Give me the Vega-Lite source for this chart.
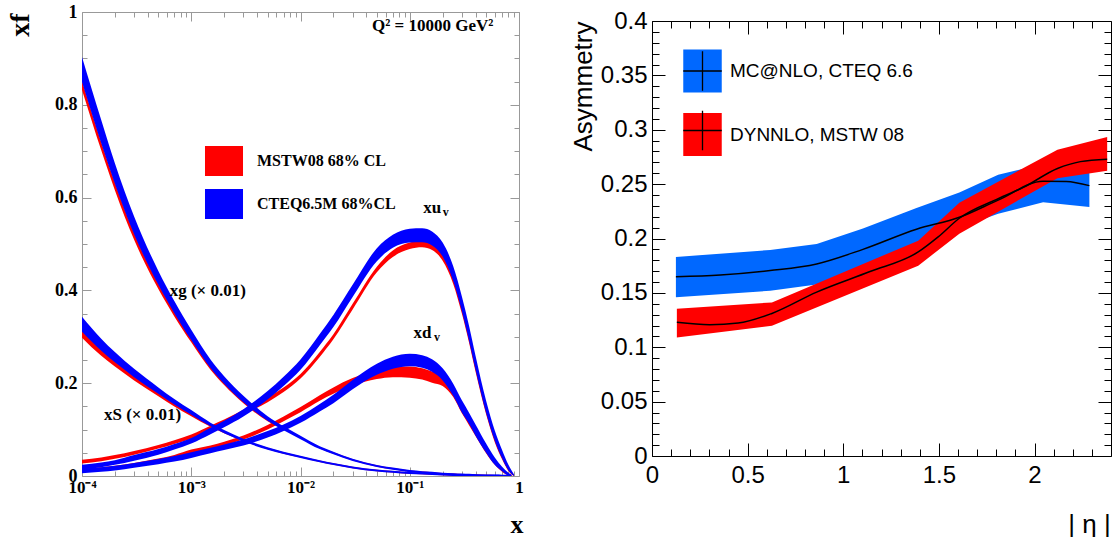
{
"$schema": "https://vega.github.io/schema/vega-lite/v6.json",
"background": "white",
"padding": {"left": 6, "top": 3, "right": 0, "bottom": 0},
"spacing": 46,
"config": {"view": {"stroke": null}, "axis": {"grid": false, "labelFlush": false, "labelOverlap": false, "tickWidth": 1, "domainWidth": 1}, "legend": {"labelLimit": 0}},
"resolve": {"scale": {"fill": "independent", "stroke": "independent"}, "legend": {"fill": "independent", "stroke": "independent"}},
"datasets": {
"mstw": [
{"pdf":"xg","set":"MSTW08 68% CL","x":0.0001,"lo":0.832,"hi":0.852},
{"pdf":"xg","set":"MSTW08 68% CL","x":0.00015,"lo":0.702,"hi":0.72},
{"pdf":"xg","set":"MSTW08 68% CL","x":0.0002,"lo":0.616,"hi":0.633},
{"pdf":"xg","set":"MSTW08 68% CL","x":0.0003,"lo":0.509,"hi":0.524},
{"pdf":"xg","set":"MSTW08 68% CL","x":0.0005,"lo":0.403,"hi":0.415},
{"pdf":"xg","set":"MSTW08 68% CL","x":0.0007,"lo":0.344,"hi":0.354},
{"pdf":"xg","set":"MSTW08 68% CL","x":0.001,"lo":0.288,"hi":0.296},
{"pdf":"xg","set":"MSTW08 68% CL","x":0.0015,"lo":0.229,"hi":0.236},
{"pdf":"xg","set":"MSTW08 68% CL","x":0.002,"lo":0.196,"hi":0.202},
{"pdf":"xg","set":"MSTW08 68% CL","x":0.003,"lo":0.157,"hi":0.162},
{"pdf":"xg","set":"MSTW08 68% CL","x":0.005,"lo":0.118,"hi":0.122},
{"pdf":"xg","set":"MSTW08 68% CL","x":0.007,"lo":0.1015,"hi":0.1045},
{"pdf":"xg","set":"MSTW08 68% CL","x":0.01,"lo":0.0815,"hi":0.0845},
{"pdf":"xg","set":"MSTW08 68% CL","x":0.015,"lo":0.0595,"hi":0.0625},
{"pdf":"xg","set":"MSTW08 68% CL","x":0.02,"lo":0.048,"hi":0.051},
{"pdf":"xg","set":"MSTW08 68% CL","x":0.03,"lo":0.0333,"hi":0.0363},
{"pdf":"xg","set":"MSTW08 68% CL","x":0.05,"lo":0.0202,"hi":0.0232},
{"pdf":"xg","set":"MSTW08 68% CL","x":0.07,"lo":0.0144,"hi":0.0174},
{"pdf":"xg","set":"MSTW08 68% CL","x":0.1,"lo":0.009,"hi":0.012},
{"pdf":"xg","set":"MSTW08 68% CL","x":0.13,"lo":0.0067,"hi":0.0097},
{"pdf":"xg","set":"MSTW08 68% CL","x":0.16,"lo":0.0053,"hi":0.0083},
{"pdf":"xg","set":"MSTW08 68% CL","x":0.2,"lo":0.0035,"hi":0.0065},
{"pdf":"xg","set":"MSTW08 68% CL","x":0.25,"lo":0.0023,"hi":0.0053},
{"pdf":"xg","set":"MSTW08 68% CL","x":0.3,"lo":0.0015,"hi":0.0045},
{"pdf":"xg","set":"MSTW08 68% CL","x":0.35,"lo":0.0009,"hi":0.0039},
{"pdf":"xg","set":"MSTW08 68% CL","x":0.4,"lo":0.0003,"hi":0.0033},
{"pdf":"xg","set":"MSTW08 68% CL","x":0.5,"lo":0,"hi":0.0027},
{"pdf":"xg","set":"MSTW08 68% CL","x":0.6,"lo":0,"hi":0.0023},
{"pdf":"xg","set":"MSTW08 68% CL","x":0.7,"lo":0,"hi":0.002},
{"pdf":"xg","set":"MSTW08 68% CL","x":0.8,"lo":0,"hi":0.0018},
{"pdf":"xg","set":"MSTW08 68% CL","x":0.85,"lo":0,"hi":0.0017},
{"pdf":"xS","set":"MSTW08 68% CL","x":0.0001,"lo":0.298,"hi":0.316},
{"pdf":"xS","set":"MSTW08 68% CL","x":0.00015,"lo":0.259,"hi":0.276},
{"pdf":"xS","set":"MSTW08 68% CL","x":0.0002,"lo":0.236,"hi":0.25},
{"pdf":"xS","set":"MSTW08 68% CL","x":0.0003,"lo":0.206,"hi":0.218},
{"pdf":"xS","set":"MSTW08 68% CL","x":0.0005,"lo":0.172,"hi":0.181},
{"pdf":"xS","set":"MSTW08 68% CL","x":0.0007,"lo":0.15,"hi":0.158},
{"pdf":"xS","set":"MSTW08 68% CL","x":0.001,"lo":0.129,"hi":0.136},
{"pdf":"xS","set":"MSTW08 68% CL","x":0.0015,"lo":0.106,"hi":0.112},
{"pdf":"xS","set":"MSTW08 68% CL","x":0.002,"lo":0.092,"hi":0.097},
{"pdf":"xS","set":"MSTW08 68% CL","x":0.003,"lo":0.0757,"hi":0.0787},
{"pdf":"xS","set":"MSTW08 68% CL","x":0.005,"lo":0.0577,"hi":0.0607},
{"pdf":"xS","set":"MSTW08 68% CL","x":0.007,"lo":0.0482,"hi":0.0512},
{"pdf":"xS","set":"MSTW08 68% CL","x":0.01,"lo":0.0397,"hi":0.0427},
{"pdf":"xS","set":"MSTW08 68% CL","x":0.015,"lo":0.0302,"hi":0.0332},
{"pdf":"xS","set":"MSTW08 68% CL","x":0.02,"lo":0.0243,"hi":0.0273},
{"pdf":"xS","set":"MSTW08 68% CL","x":0.03,"lo":0.0169,"hi":0.0199},
{"pdf":"xS","set":"MSTW08 68% CL","x":0.05,"lo":0.0104,"hi":0.0134},
{"pdf":"xS","set":"MSTW08 68% CL","x":0.07,"lo":0.0076,"hi":0.0106},
{"pdf":"xS","set":"MSTW08 68% CL","x":0.1,"lo":0.005,"hi":0.008},
{"pdf":"xS","set":"MSTW08 68% CL","x":0.13,"lo":0.0037,"hi":0.0067},
{"pdf":"xS","set":"MSTW08 68% CL","x":0.16,"lo":0.0027,"hi":0.0057},
{"pdf":"xS","set":"MSTW08 68% CL","x":0.2,"lo":0.0017,"hi":0.0047},
{"pdf":"xS","set":"MSTW08 68% CL","x":0.25,"lo":0.0009,"hi":0.0039},
{"pdf":"xS","set":"MSTW08 68% CL","x":0.3,"lo":0.0003,"hi":0.0033},
{"pdf":"xS","set":"MSTW08 68% CL","x":0.35,"lo":0,"hi":0.0029},
{"pdf":"xS","set":"MSTW08 68% CL","x":0.4,"lo":0,"hi":0.0025},
{"pdf":"xS","set":"MSTW08 68% CL","x":0.5,"lo":0,"hi":0.0021},
{"pdf":"xS","set":"MSTW08 68% CL","x":0.6,"lo":0,"hi":0.0018},
{"pdf":"xS","set":"MSTW08 68% CL","x":0.7,"lo":0,"hi":0.0016},
{"pdf":"xS","set":"MSTW08 68% CL","x":0.8,"lo":0,"hi":0.0015},
{"pdf":"xS","set":"MSTW08 68% CL","x":0.85,"lo":0,"hi":0.0015},
{"pdf":"xu","set":"MSTW08 68% CL","x":0.0001,"lo":0.027,"hi":0.035},
{"pdf":"xu","set":"MSTW08 68% CL","x":0.00015,"lo":0.032,"hi":0.04},
{"pdf":"xu","set":"MSTW08 68% CL","x":0.0002,"lo":0.037,"hi":0.045},
{"pdf":"xu","set":"MSTW08 68% CL","x":0.0003,"lo":0.046,"hi":0.054},
{"pdf":"xu","set":"MSTW08 68% CL","x":0.0005,"lo":0.059,"hi":0.067},
{"pdf":"xu","set":"MSTW08 68% CL","x":0.0007,"lo":0.069,"hi":0.077},
{"pdf":"xu","set":"MSTW08 68% CL","x":0.001,"lo":0.0805,"hi":0.0895},
{"pdf":"xu","set":"MSTW08 68% CL","x":0.0015,"lo":0.0995,"hi":0.1085},
{"pdf":"xu","set":"MSTW08 68% CL","x":0.002,"lo":0.1125,"hi":0.1215},
{"pdf":"xu","set":"MSTW08 68% CL","x":0.003,"lo":0.133,"hi":0.143},
{"pdf":"xu","set":"MSTW08 68% CL","x":0.005,"lo":0.159,"hi":0.169},
{"pdf":"xu","set":"MSTW08 68% CL","x":0.007,"lo":0.181,"hi":0.191},
{"pdf":"xu","set":"MSTW08 68% CL","x":0.01,"lo":0.21,"hi":0.22},
{"pdf":"xu","set":"MSTW08 68% CL","x":0.015,"lo":0.2565,"hi":0.2675},
{"pdf":"xu","set":"MSTW08 68% CL","x":0.02,"lo":0.2945,"hi":0.3055},
{"pdf":"xu","set":"MSTW08 68% CL","x":0.03,"lo":0.359,"hi":0.371},
{"pdf":"xu","set":"MSTW08 68% CL","x":0.05,"lo":0.439,"hi":0.451},
{"pdf":"xu","set":"MSTW08 68% CL","x":0.07,"lo":0.472,"hi":0.486},
{"pdf":"xu","set":"MSTW08 68% CL","x":0.1,"lo":0.489,"hi":0.503},
{"pdf":"xu","set":"MSTW08 68% CL","x":0.13,"lo":0.493,"hi":0.507},
{"pdf":"xu","set":"MSTW08 68% CL","x":0.16,"lo":0.487,"hi":0.501},
{"pdf":"xu","set":"MSTW08 68% CL","x":0.2,"lo":0.464,"hi":0.48},
{"pdf":"xu","set":"MSTW08 68% CL","x":0.25,"lo":0.414,"hi":0.43},
{"pdf":"xu","set":"MSTW08 68% CL","x":0.3,"lo":0.35,"hi":0.366},
{"pdf":"xu","set":"MSTW08 68% CL","x":0.35,"lo":0.286,"hi":0.302},
{"pdf":"xu","set":"MSTW08 68% CL","x":0.4,"lo":0.225,"hi":0.241},
{"pdf":"xu","set":"MSTW08 68% CL","x":0.5,"lo":0.133,"hi":0.147},
{"pdf":"xu","set":"MSTW08 68% CL","x":0.6,"lo":0.073,"hi":0.087},
{"pdf":"xu","set":"MSTW08 68% CL","x":0.7,"lo":0.036,"hi":0.048},
{"pdf":"xu","set":"MSTW08 68% CL","x":0.8,"lo":0.011,"hi":0.019},
{"pdf":"xu","set":"MSTW08 68% CL","x":0.85,"lo":0.004,"hi":0.01},
{"pdf":"xu","set":"MSTW08 68% CL","x":0.9,"lo":0,"hi":0.002},
{"pdf":"xd","set":"MSTW08 68% CL","x":0.0001,"lo":0.01,"hi":0.016},
{"pdf":"xd","set":"MSTW08 68% CL","x":0.00015,"lo":0.013,"hi":0.019},
{"pdf":"xd","set":"MSTW08 68% CL","x":0.0002,"lo":0.016,"hi":0.022},
{"pdf":"xd","set":"MSTW08 68% CL","x":0.0003,"lo":0.022,"hi":0.028},
{"pdf":"xd","set":"MSTW08 68% CL","x":0.0005,"lo":0.0305,"hi":0.0375},
{"pdf":"xd","set":"MSTW08 68% CL","x":0.0007,"lo":0.0385,"hi":0.0455},
{"pdf":"xd","set":"MSTW08 68% CL","x":0.001,"lo":0.049,"hi":0.057},
{"pdf":"xd","set":"MSTW08 68% CL","x":0.0015,"lo":0.058,"hi":0.066},
{"pdf":"xd","set":"MSTW08 68% CL","x":0.002,"lo":0.066,"hi":0.074},
{"pdf":"xd","set":"MSTW08 68% CL","x":0.003,"lo":0.0785,"hi":0.0875},
{"pdf":"xd","set":"MSTW08 68% CL","x":0.005,"lo":0.1,"hi":0.11},
{"pdf":"xd","set":"MSTW08 68% CL","x":0.007,"lo":0.118,"hi":0.128},
{"pdf":"xd","set":"MSTW08 68% CL","x":0.01,"lo":0.1375,"hi":0.1485},
{"pdf":"xd","set":"MSTW08 68% CL","x":0.015,"lo":0.162,"hi":0.174},
{"pdf":"xd","set":"MSTW08 68% CL","x":0.02,"lo":0.177,"hi":0.191},
{"pdf":"xd","set":"MSTW08 68% CL","x":0.03,"lo":0.195,"hi":0.211},
{"pdf":"xd","set":"MSTW08 68% CL","x":0.05,"lo":0.209,"hi":0.229},
{"pdf":"xd","set":"MSTW08 68% CL","x":0.07,"lo":0.213,"hi":0.235},
{"pdf":"xd","set":"MSTW08 68% CL","x":0.1,"lo":0.212,"hi":0.236},
{"pdf":"xd","set":"MSTW08 68% CL","x":0.13,"lo":0.208,"hi":0.232},
{"pdf":"xd","set":"MSTW08 68% CL","x":0.16,"lo":0.201,"hi":0.225},
{"pdf":"xd","set":"MSTW08 68% CL","x":0.2,"lo":0.194,"hi":0.216},
{"pdf":"xd","set":"MSTW08 68% CL","x":0.25,"lo":0.17,"hi":0.19},
{"pdf":"xd","set":"MSTW08 68% CL","x":0.3,"lo":0.135,"hi":0.155},
{"pdf":"xd","set":"MSTW08 68% CL","x":0.35,"lo":0.109,"hi":0.129},
{"pdf":"xd","set":"MSTW08 68% CL","x":0.4,"lo":0.086,"hi":0.104},
{"pdf":"xd","set":"MSTW08 68% CL","x":0.5,"lo":0.049,"hi":0.065},
{"pdf":"xd","set":"MSTW08 68% CL","x":0.6,"lo":0.024,"hi":0.036},
{"pdf":"xd","set":"MSTW08 68% CL","x":0.7,"lo":0.009,"hi":0.017},
{"pdf":"xd","set":"MSTW08 68% CL","x":0.8,"lo":0.001,"hi":0.005},
{"pdf":"xd","set":"MSTW08 68% CL","x":0.85,"lo":0,"hi":0.002}
],
"cteq": [
{"pdf":"xg","set":"CTEQ6.5M 68%CL","x":0.0001,"lo":0.849,"hi":0.903},
{"pdf":"xg","set":"CTEQ6.5M 68%CL","x":0.00015,"lo":0.717,"hi":0.767},
{"pdf":"xg","set":"CTEQ6.5M 68%CL","x":0.0002,"lo":0.63,"hi":0.674},
{"pdf":"xg","set":"CTEQ6.5M 68%CL","x":0.0003,"lo":0.521,"hi":0.559},
{"pdf":"xg","set":"CTEQ6.5M 68%CL","x":0.0005,"lo":0.412,"hi":0.442},
{"pdf":"xg","set":"CTEQ6.5M 68%CL","x":0.0007,"lo":0.351,"hi":0.377},
{"pdf":"xg","set":"CTEQ6.5M 68%CL","x":0.001,"lo":0.293,"hi":0.315},
{"pdf":"xg","set":"CTEQ6.5M 68%CL","x":0.0015,"lo":0.233,"hi":0.251},
{"pdf":"xg","set":"CTEQ6.5M 68%CL","x":0.002,"lo":0.199,"hi":0.215},
{"pdf":"xg","set":"CTEQ6.5M 68%CL","x":0.003,"lo":0.159,"hi":0.173},
{"pdf":"xg","set":"CTEQ6.5M 68%CL","x":0.005,"lo":0.119,"hi":0.129},
{"pdf":"xg","set":"CTEQ6.5M 68%CL","x":0.007,"lo":0.0988,"hi":0.1072},
{"pdf":"xg","set":"CTEQ6.5M 68%CL","x":0.01,"lo":0.0794,"hi":0.0866},
{"pdf":"xg","set":"CTEQ6.5M 68%CL","x":0.015,"lo":0.058,"hi":0.064},
{"pdf":"xg","set":"CTEQ6.5M 68%CL","x":0.02,"lo":0.0468,"hi":0.0522},
{"pdf":"xg","set":"CTEQ6.5M 68%CL","x":0.03,"lo":0.0324,"hi":0.0372},
{"pdf":"xg","set":"CTEQ6.5M 68%CL","x":0.05,"lo":0.0195,"hi":0.0239},
{"pdf":"xg","set":"CTEQ6.5M 68%CL","x":0.07,"lo":0.0137,"hi":0.0181},
{"pdf":"xg","set":"CTEQ6.5M 68%CL","x":0.1,"lo":0.0083,"hi":0.0127},
{"pdf":"xg","set":"CTEQ6.5M 68%CL","x":0.13,"lo":0.006,"hi":0.0104},
{"pdf":"xg","set":"CTEQ6.5M 68%CL","x":0.16,"lo":0.0046,"hi":0.009},
{"pdf":"xg","set":"CTEQ6.5M 68%CL","x":0.2,"lo":0.0028,"hi":0.0072},
{"pdf":"xg","set":"CTEQ6.5M 68%CL","x":0.25,"lo":0.0016,"hi":0.006},
{"pdf":"xg","set":"CTEQ6.5M 68%CL","x":0.3,"lo":0.0008,"hi":0.0052},
{"pdf":"xg","set":"CTEQ6.5M 68%CL","x":0.35,"lo":0.0002,"hi":0.0046},
{"pdf":"xg","set":"CTEQ6.5M 68%CL","x":0.4,"lo":0,"hi":0.004},
{"pdf":"xg","set":"CTEQ6.5M 68%CL","x":0.5,"lo":0,"hi":0.0034},
{"pdf":"xg","set":"CTEQ6.5M 68%CL","x":0.6,"lo":0,"hi":0.003},
{"pdf":"xg","set":"CTEQ6.5M 68%CL","x":0.7,"lo":0,"hi":0.0027},
{"pdf":"xg","set":"CTEQ6.5M 68%CL","x":0.8,"lo":0,"hi":0.0025},
{"pdf":"xg","set":"CTEQ6.5M 68%CL","x":0.85,"lo":0,"hi":0.0024},
{"pdf":"xS","set":"CTEQ6.5M 68%CL","x":0.0001,"lo":0.311,"hi":0.343},
{"pdf":"xS","set":"CTEQ6.5M 68%CL","x":0.00015,"lo":0.27,"hi":0.296},
{"pdf":"xS","set":"CTEQ6.5M 68%CL","x":0.0002,"lo":0.245,"hi":0.267},
{"pdf":"xS","set":"CTEQ6.5M 68%CL","x":0.0003,"lo":0.213,"hi":0.231},
{"pdf":"xS","set":"CTEQ6.5M 68%CL","x":0.0005,"lo":0.177,"hi":0.191},
{"pdf":"xS","set":"CTEQ6.5M 68%CL","x":0.0007,"lo":0.154,"hi":0.166},
{"pdf":"xS","set":"CTEQ6.5M 68%CL","x":0.001,"lo":0.132,"hi":0.142},
{"pdf":"xS","set":"CTEQ6.5M 68%CL","x":0.0015,"lo":0.107,"hi":0.115},
{"pdf":"xS","set":"CTEQ6.5M 68%CL","x":0.002,"lo":0.092,"hi":0.099},
{"pdf":"xS","set":"CTEQ6.5M 68%CL","x":0.003,"lo":0.0742,"hi":0.0802},
{"pdf":"xS","set":"CTEQ6.5M 68%CL","x":0.005,"lo":0.0567,"hi":0.0617},
{"pdf":"xS","set":"CTEQ6.5M 68%CL","x":0.007,"lo":0.0473,"hi":0.0521},
{"pdf":"xS","set":"CTEQ6.5M 68%CL","x":0.01,"lo":0.039,"hi":0.0434},
{"pdf":"xS","set":"CTEQ6.5M 68%CL","x":0.015,"lo":0.0295,"hi":0.0339},
{"pdf":"xS","set":"CTEQ6.5M 68%CL","x":0.02,"lo":0.0236,"hi":0.028},
{"pdf":"xS","set":"CTEQ6.5M 68%CL","x":0.03,"lo":0.0162,"hi":0.0206},
{"pdf":"xS","set":"CTEQ6.5M 68%CL","x":0.05,"lo":0.0097,"hi":0.0141},
{"pdf":"xS","set":"CTEQ6.5M 68%CL","x":0.07,"lo":0.0069,"hi":0.0113},
{"pdf":"xS","set":"CTEQ6.5M 68%CL","x":0.1,"lo":0.0043,"hi":0.0087},
{"pdf":"xS","set":"CTEQ6.5M 68%CL","x":0.13,"lo":0.003,"hi":0.0074},
{"pdf":"xS","set":"CTEQ6.5M 68%CL","x":0.16,"lo":0.002,"hi":0.0064},
{"pdf":"xS","set":"CTEQ6.5M 68%CL","x":0.2,"lo":0.001,"hi":0.0054},
{"pdf":"xS","set":"CTEQ6.5M 68%CL","x":0.25,"lo":0.0002,"hi":0.0046},
{"pdf":"xS","set":"CTEQ6.5M 68%CL","x":0.3,"lo":0,"hi":0.004},
{"pdf":"xS","set":"CTEQ6.5M 68%CL","x":0.35,"lo":0,"hi":0.0036},
{"pdf":"xS","set":"CTEQ6.5M 68%CL","x":0.4,"lo":0,"hi":0.0032},
{"pdf":"xS","set":"CTEQ6.5M 68%CL","x":0.5,"lo":0,"hi":0.0028},
{"pdf":"xS","set":"CTEQ6.5M 68%CL","x":0.6,"lo":0,"hi":0.0025},
{"pdf":"xS","set":"CTEQ6.5M 68%CL","x":0.7,"lo":0,"hi":0.0023},
{"pdf":"xS","set":"CTEQ6.5M 68%CL","x":0.8,"lo":0,"hi":0.0022},
{"pdf":"xS","set":"CTEQ6.5M 68%CL","x":0.85,"lo":0,"hi":0.0022},
{"pdf":"xu","set":"CTEQ6.5M 68%CL","x":0.0001,"lo":0.014,"hi":0.024},
{"pdf":"xu","set":"CTEQ6.5M 68%CL","x":0.00015,"lo":0.019,"hi":0.029},
{"pdf":"xu","set":"CTEQ6.5M 68%CL","x":0.0002,"lo":0.024,"hi":0.034},
{"pdf":"xu","set":"CTEQ6.5M 68%CL","x":0.0003,"lo":0.033,"hi":0.045},
{"pdf":"xu","set":"CTEQ6.5M 68%CL","x":0.0005,"lo":0.046,"hi":0.058},
{"pdf":"xu","set":"CTEQ6.5M 68%CL","x":0.0007,"lo":0.057,"hi":0.069},
{"pdf":"xu","set":"CTEQ6.5M 68%CL","x":0.001,"lo":0.07,"hi":0.082},
{"pdf":"xu","set":"CTEQ6.5M 68%CL","x":0.0015,"lo":0.09,"hi":0.104},
{"pdf":"xu","set":"CTEQ6.5M 68%CL","x":0.002,"lo":0.105,"hi":0.119},
{"pdf":"xu","set":"CTEQ6.5M 68%CL","x":0.003,"lo":0.128,"hi":0.144},
{"pdf":"xu","set":"CTEQ6.5M 68%CL","x":0.005,"lo":0.165,"hi":0.183},
{"pdf":"xu","set":"CTEQ6.5M 68%CL","x":0.007,"lo":0.194,"hi":0.214},
{"pdf":"xu","set":"CTEQ6.5M 68%CL","x":0.01,"lo":0.229,"hi":0.251},
{"pdf":"xu","set":"CTEQ6.5M 68%CL","x":0.015,"lo":0.282,"hi":0.306},
{"pdf":"xu","set":"CTEQ6.5M 68%CL","x":0.02,"lo":0.321,"hi":0.347},
{"pdf":"xu","set":"CTEQ6.5M 68%CL","x":0.03,"lo":0.386,"hi":0.412},
{"pdf":"xu","set":"CTEQ6.5M 68%CL","x":0.05,"lo":0.463,"hi":0.491},
{"pdf":"xu","set":"CTEQ6.5M 68%CL","x":0.07,"lo":0.492,"hi":0.52},
{"pdf":"xu","set":"CTEQ6.5M 68%CL","x":0.1,"lo":0.503,"hi":0.533},
{"pdf":"xu","set":"CTEQ6.5M 68%CL","x":0.13,"lo":0.504,"hi":0.534},
{"pdf":"xu","set":"CTEQ6.5M 68%CL","x":0.16,"lo":0.497,"hi":0.527},
{"pdf":"xu","set":"CTEQ6.5M 68%CL","x":0.2,"lo":0.473,"hi":0.503},
{"pdf":"xu","set":"CTEQ6.5M 68%CL","x":0.25,"lo":0.42,"hi":0.452},
{"pdf":"xu","set":"CTEQ6.5M 68%CL","x":0.3,"lo":0.355,"hi":0.387},
{"pdf":"xu","set":"CTEQ6.5M 68%CL","x":0.35,"lo":0.29,"hi":0.322},
{"pdf":"xu","set":"CTEQ6.5M 68%CL","x":0.4,"lo":0.229,"hi":0.259},
{"pdf":"xu","set":"CTEQ6.5M 68%CL","x":0.5,"lo":0.136,"hi":0.162},
{"pdf":"xu","set":"CTEQ6.5M 68%CL","x":0.6,"lo":0.076,"hi":0.098},
{"pdf":"xu","set":"CTEQ6.5M 68%CL","x":0.7,"lo":0.038,"hi":0.056},
{"pdf":"xu","set":"CTEQ6.5M 68%CL","x":0.8,"lo":0.012,"hi":0.024},
{"pdf":"xu","set":"CTEQ6.5M 68%CL","x":0.85,"lo":0.005,"hi":0.013},
{"pdf":"xu","set":"CTEQ6.5M 68%CL","x":0.9,"lo":0,"hi":0.003},
{"pdf":"xd","set":"CTEQ6.5M 68%CL","x":0.0001,"lo":0.006,"hi":0.016},
{"pdf":"xd","set":"CTEQ6.5M 68%CL","x":0.00015,"lo":0.009,"hi":0.019},
{"pdf":"xd","set":"CTEQ6.5M 68%CL","x":0.0002,"lo":0.012,"hi":0.022},
{"pdf":"xd","set":"CTEQ6.5M 68%CL","x":0.0003,"lo":0.018,"hi":0.028},
{"pdf":"xd","set":"CTEQ6.5M 68%CL","x":0.0005,"lo":0.0255,"hi":0.0365},
{"pdf":"xd","set":"CTEQ6.5M 68%CL","x":0.0007,"lo":0.031,"hi":0.043},
{"pdf":"xd","set":"CTEQ6.5M 68%CL","x":0.001,"lo":0.039,"hi":0.051},
{"pdf":"xd","set":"CTEQ6.5M 68%CL","x":0.0015,"lo":0.049,"hi":0.061},
{"pdf":"xd","set":"CTEQ6.5M 68%CL","x":0.002,"lo":0.056,"hi":0.068},
{"pdf":"xd","set":"CTEQ6.5M 68%CL","x":0.003,"lo":0.0655,"hi":0.0785},
{"pdf":"xd","set":"CTEQ6.5M 68%CL","x":0.005,"lo":0.083,"hi":0.097},
{"pdf":"xd","set":"CTEQ6.5M 68%CL","x":0.007,"lo":0.097,"hi":0.111},
{"pdf":"xd","set":"CTEQ6.5M 68%CL","x":0.01,"lo":0.1145,"hi":0.1295},
{"pdf":"xd","set":"CTEQ6.5M 68%CL","x":0.015,"lo":0.139,"hi":0.155},
{"pdf":"xd","set":"CTEQ6.5M 68%CL","x":0.02,"lo":0.157,"hi":0.175},
{"pdf":"xd","set":"CTEQ6.5M 68%CL","x":0.03,"lo":0.187,"hi":0.207},
{"pdf":"xd","set":"CTEQ6.5M 68%CL","x":0.05,"lo":0.218,"hi":0.242},
{"pdf":"xd","set":"CTEQ6.5M 68%CL","x":0.07,"lo":0.231,"hi":0.257},
{"pdf":"xd","set":"CTEQ6.5M 68%CL","x":0.1,"lo":0.2365,"hi":0.2635},
{"pdf":"xd","set":"CTEQ6.5M 68%CL","x":0.13,"lo":0.2335,"hi":0.2605},
{"pdf":"xd","set":"CTEQ6.5M 68%CL","x":0.16,"lo":0.2245,"hi":0.2515},
{"pdf":"xd","set":"CTEQ6.5M 68%CL","x":0.2,"lo":0.206,"hi":0.232},
{"pdf":"xd","set":"CTEQ6.5M 68%CL","x":0.25,"lo":0.173,"hi":0.199},
{"pdf":"xd","set":"CTEQ6.5M 68%CL","x":0.3,"lo":0.137,"hi":0.163},
{"pdf":"xd","set":"CTEQ6.5M 68%CL","x":0.35,"lo":0.112,"hi":0.136},
{"pdf":"xd","set":"CTEQ6.5M 68%CL","x":0.4,"lo":0.087,"hi":0.111},
{"pdf":"xd","set":"CTEQ6.5M 68%CL","x":0.5,"lo":0.05,"hi":0.07},
{"pdf":"xd","set":"CTEQ6.5M 68%CL","x":0.6,"lo":0.024,"hi":0.04},
{"pdf":"xd","set":"CTEQ6.5M 68%CL","x":0.7,"lo":0.01,"hi":0.02},
{"pdf":"xd","set":"CTEQ6.5M 68%CL","x":0.8,"lo":0.001,"hi":0.007},
{"pdf":"xd","set":"CTEQ6.5M 68%CL","x":0.85,"lo":0,"hi":0.003}
],
"rbb": [
{"model":"MC@NLO, CTEQ 6.6","eta":0.125,"lo":0.146,"hi":0.183},
{"model":"MC@NLO, CTEQ 6.6","eta":0.618,"lo":0.152,"hi":0.1895},
{"model":"MC@NLO, CTEQ 6.6","eta":0.861,"lo":0.1576,"hi":0.195},
{"model":"MC@NLO, CTEQ 6.6","eta":1.103,"lo":0.1744,"hi":0.2091},
{"model":"MC@NLO, CTEQ 6.6","eta":1.383,"lo":0.1943,"hi":0.2281},
{"model":"MC@NLO, CTEQ 6.6","eta":1.607,"lo":0.21,"hi":0.2423},
{"model":"MC@NLO, CTEQ 6.6","eta":1.81,"lo":0.2227,"hi":0.2587},
{"model":"MC@NLO, CTEQ 6.6","eta":2.045,"lo":0.2334,"hi":0.2682},
{"model":"MC@NLO, CTEQ 6.6","eta":2.287,"lo":0.229,"hi":0.265}
],
"rbr": [
{"model":"DYNNLO, MSTW 08","eta":0.13,"lo":0.109,"hi":0.1355},
{"model":"DYNNLO, MSTW 08","eta":0.627,"lo":0.1197,"hi":0.1412},
{"model":"DYNNLO, MSTW 08","eta":1.392,"lo":0.175,"hi":0.198},
{"model":"DYNNLO, MSTW 08","eta":1.607,"lo":0.2044,"hi":0.2328},
{"model":"DYNNLO, MSTW 08","eta":2.12,"lo":0.2555,"hi":0.2817},
{"model":"DYNNLO, MSTW 08","eta":2.38,"lo":0.2622,"hi":0.2934}
],
"rlb": [
{"curve":"MC@NLO central","eta":0.125,"a":0.1649},
{"curve":"MC@NLO central","eta":0.357,"a":0.1665},
{"curve":"MC@NLO central","eta":0.618,"a":0.1706},
{"curve":"MC@NLO central","eta":0.861,"a":0.1766},
{"curve":"MC@NLO central","eta":1.103,"a":0.19},
{"curve":"MC@NLO central","eta":1.383,"a":0.2085},
{"curve":"MC@NLO central","eta":1.607,"a":0.2195},
{"curve":"MC@NLO central","eta":1.81,"a":0.2353},
{"curve":"MC@NLO central","eta":2.045,"a":0.2527},
{"curve":"MC@NLO central","eta":2.166,"a":0.2524},
{"curve":"MC@NLO central","eta":2.287,"a":0.2486}
],
"rlr": [
{"curve":"DYNNLO central","eta":0.13,"a":0.1229},
{"curve":"DYNNLO central","eta":0.3016,"a":0.1207},
{"curve":"DYNNLO central","eta":0.4507,"a":0.1222},
{"curve":"DYNNLO central","eta":0.627,"a":0.1311},
{"curve":"DYNNLO central","eta":0.861,"a":0.1507},
{"curve":"DYNNLO central","eta":1.14,"a":0.1696},
{"curve":"DYNNLO central","eta":1.392,"a":0.1876},
{"curve":"DYNNLO central","eta":1.4946,"a":0.2012},
{"curve":"DYNNLO central","eta":1.607,"a":0.2186},
{"curve":"DYNNLO central","eta":1.81,"a":0.2366},
{"curve":"DYNNLO central","eta":1.942,"a":0.247},
{"curve":"DYNNLO central","eta":2.12,"a":0.2644},
{"curve":"DYNNLO central","eta":2.24,"a":0.2707},
{"curve":"DYNNLO central","eta":2.38,"a":0.2729}
]
},
"hconcat": [
{
"width": 437, "height": 464,
"resolve": {"axis": {"x": "independent", "y": "independent"}},
"layer": [
{"data": {"name": "mstw"},
 "mark": {"type": "area", "interpolate": "monotone", "opacity": 1},
 "encoding": {
  "x": {"field": "x", "type": "quantitative", "scale": {"type": "log", "domain": [0.0001, 1], "nice": false},
   "axis": {"orient": "bottom", "values": [0.0001, 0.001, 0.01, 0.1, 1], "labelExpr": "datum.value > 0.5 ? '1' : datum.value > 0.05 ? '10⁻¹' : datum.value > 0.005 ? '10⁻²' : datum.value > 0.0005 ? '10⁻³' : '10⁻⁴'", "tickSize": -9, "labelPadding": 12, "labelFont": "Liberation Serif", "labelFontWeight": "bold", "labelFontSize": 17, "labelColor": "black", "tickColor": "#999999", "domainColor": "#999999", "title": "x", "titleX": 434.5, "titleY": 56, "titleAlign": "center", "titleBaseline": "alphabetic", "titleAngle": 0, "titleFont": "Liberation Serif", "titleFontSize": 26, "titleFontWeight": "bold", "titleColor": "black"}},
  "y": {"field": "lo", "type": "quantitative", "scale": {"domain": [0, 1], "nice": false, "zero": false},
   "axis": {"orient": "left", "values": [0, 0.2, 0.4, 0.6, 0.8, 1], "format": "~g", "tickSize": -9, "labelPadding": 14, "labelFont": "Liberation Serif", "labelFontWeight": "bold", "labelFontSize": 18, "labelColor": "black", "tickColor": "#999999", "domainColor": "#999999", "title": "xf", "titleX": -54, "titleY": 1, "titleAngle": 270, "titleAlign": "right", "titleBaseline": "alphabetic", "titleFont": "Liberation Serif", "titleFontSize": 28, "titleFontWeight": "bold", "titleColor": "black"}},
  "y2": {"field": "hi"},
  "fill": {"field": "set", "type": "nominal", "scale": {"domain": ["MSTW08 68% CL", "CTEQ6.5M 68%CL"], "range": ["#ff0000", "#0000ff"]},
   "legend": {"orient": "none", "legendX": 127, "legendY": 134, "direction": "vertical", "title": null, "symbolType": "M-1.267,-1L1.267,-1L1.267,1L-1.267,1Z", "symbolSize": 900, "symbolStrokeWidth": 0, "symbolOpacity": 1, "labelFont": "Liberation Serif", "labelFontWeight": "bold", "labelFontSize": 16, "labelColor": "black", "labelOffset": 18, "labelLimit": 0, "rowPadding": 13, "padding": 0}},
  "detail": {"field": "pdf", "type": "nominal"}
 }},
{"data": {"name": "cteq"},
 "mark": {"type": "area", "interpolate": "monotone", "opacity": 1},
 "encoding": {
  "x": {"field": "x", "type": "quantitative", "scale": {"type": "log", "domain": [0.0001, 1], "nice": false},
   "axis": {"orient": "bottom", "values": [0.0002,0.0003,0.0004,0.0005,0.0006,0.0007,0.0008,0.0009,0.002,0.003,0.004,0.005,0.006,0.007,0.008,0.009,0.02,0.03,0.04,0.05,0.06,0.07,0.08,0.09,0.2,0.3,0.4,0.5,0.6,0.7,0.8,0.9], "tickSize": -5, "labels": false, "domain": false, "title": null, "tickColor": "#999999"}},
  "y": {"field": "lo", "type": "quantitative", "scale": {"domain": [0, 1], "nice": false, "zero": false},
   "axis": {"orient": "left", "values": [0.05,0.1,0.15,0.25,0.3,0.35,0.45,0.5,0.55,0.65,0.7,0.75,0.85,0.9,0.95], "tickSize": -5, "labels": false, "domain": false, "title": null, "tickColor": "#999999"}},
  "y2": {"field": "hi"},
  "fill": {"field": "set", "type": "nominal", "scale": {"domain": ["MSTW08 68% CL", "CTEQ6.5M 68%CL"], "range": ["#ff0000", "#0000ff"]},
   "legend": {"orient": "none", "legendX": 127, "legendY": 134, "direction": "vertical", "title": null, "symbolType": "M-1.267,-1L1.267,-1L1.267,1L-1.267,1Z", "symbolSize": 900, "symbolStrokeWidth": 0, "symbolOpacity": 1, "labelFont": "Liberation Serif", "labelFontWeight": "bold", "labelFontSize": 16, "labelColor": "black", "labelOffset": 18, "labelLimit": 0, "rowPadding": 13, "padding": 0}},
  "detail": {"field": "pdf", "type": "nominal"}
 }},
{"data": {"values": [
  {"t": "xg (× 0.01)", "x": 0.000635, "y": 0.389},
  {"t": "xS (× 0.01)", "x": 0.000159, "y": 0.121},
  {"t": "xu", "x": 0.133, "y": 0.567},
  {"t": "xd", "x": 0.108, "y": 0.297}]},
 "mark": {"type": "text", "align": "left", "baseline": "alphabetic", "font": "Liberation Serif", "fontWeight": "bold", "fontSize": 17, "color": "black"},
 "encoding": {
  "x": {"field": "x", "type": "quantitative", "scale": {"type": "log", "domain": [0.0001, 1], "nice": false},
   "axis": {"orient": "top", "values": [0.0001, 0.001, 0.01, 0.1, 1], "tickSize": -9, "labels": false, "domain": true, "title": null, "tickColor": "#999999", "domainColor": "#999999"}},
  "y": {"field": "y", "type": "quantitative", "scale": {"domain": [0, 1], "nice": false, "zero": false},
   "axis": {"orient": "right", "values": [0, 0.2, 0.4, 0.6, 0.8, 1], "tickSize": -9, "labels": false, "domain": true, "title": null, "tickColor": "#999999", "domainColor": "#999999"}},
  "text": {"field": "t"}
 }},
{"data": {"values": [
  {"t": "v", "x": 0.2005, "y": 0.56},
  {"t": "v", "x": 0.1667, "y": 0.291}]},
 "mark": {"type": "text", "align": "left", "baseline": "alphabetic", "font": "Liberation Serif", "fontWeight": "bold", "fontSize": 12, "color": "black"},
 "encoding": {
  "x": {"field": "x", "type": "quantitative", "scale": {"type": "log", "domain": [0.0001, 1], "nice": false},
   "axis": {"orient": "top", "values": [0.0002,0.0003,0.0004,0.0005,0.0006,0.0007,0.0008,0.0009,0.002,0.003,0.004,0.005,0.006,0.007,0.008,0.009,0.02,0.03,0.04,0.05,0.06,0.07,0.08,0.09,0.2,0.3,0.4,0.5,0.6,0.7,0.8,0.9], "tickSize": -5, "labels": false, "domain": false, "title": null, "tickColor": "#999999"}},
  "y": {"field": "y", "type": "quantitative", "scale": {"domain": [0, 1], "nice": false, "zero": false},
   "axis": {"orient": "right", "values": [0.05,0.1,0.15,0.25,0.3,0.35,0.45,0.5,0.55,0.65,0.7,0.75,0.85,0.9,0.95], "tickSize": -5, "labels": false, "domain": false, "title": null, "tickColor": "#999999"}},
  "text": {"field": "t"}
 }},
{"data": {"values": [{"t": "Q² = 10000 GeV²", "x": 0.582, "y": 0.959}]},
 "mark": {"type": "text", "align": "right", "baseline": "alphabetic", "font": "Liberation Serif", "fontWeight": "bold", "fontSize": 17, "color": "black"},
 "encoding": {
  "x": {"field": "x", "type": "quantitative", "scale": {"type": "log", "domain": [0.0001, 1], "nice": false}, "axis": null},
  "y": {"field": "y", "type": "quantitative", "scale": {"domain": [0, 1], "nice": false, "zero": false}, "axis": null},
  "text": {"field": "t"}
 }}
]
},
{
"vconcat": [
{"width": 459, "height": 1, "data": {"values": [{"s": 0}]}, "mark": {"type": "point", "opacity": 0}, "encoding": {}},
{
"width": 459, "height": 435,
"resolve": {"axis": {"x": "independent", "y": "independent"}},
"layer": [
{"data": {"name": "rbb"},
 "mark": {"type": "area", "interpolate": "linear", "opacity": 1},
 "encoding": {
  "x": {"field": "eta", "type": "quantitative", "scale": {"domain": [0, 2.4], "nice": false, "zero": false},
   "axis": {"orient": "bottom", "values": [0, 0.5, 1, 1.5, 2], "format": "~g", "tickSize": -13, "labelPadding": 20, "labelFont": "Liberation Sans", "labelFontSize": 24, "labelColor": "black", "tickColor": "black", "domainColor": "black", "title": "| η |", "titleX": 437, "titleY": 76, "titleAlign": "center", "titleBaseline": "alphabetic", "titleAngle": 0, "titleFont": "Liberation Sans", "titleFontSize": 26, "titleFontWeight": "normal", "titleColor": "black"}},
  "y": {"field": "lo", "type": "quantitative", "scale": {"domain": [0, 0.4], "nice": false, "zero": false},
   "axis": {"orient": "left", "values": [0, 0.05, 0.1, 0.15, 0.2, 0.25, 0.3, 0.35, 0.4], "format": "~g", "tickSize": -13, "labelPadding": 18, "labelFont": "Liberation Sans", "labelFontSize": 24, "labelColor": "black", "tickColor": "black", "domainColor": "black", "title": "Asymmetry", "titleX": -61, "titleY": 0, "titleAngle": 270, "titleAlign": "right", "titleBaseline": "alphabetic", "titleFont": "Liberation Sans", "titleFontSize": 26, "titleFontWeight": "normal", "titleColor": "black"}},
  "y2": {"field": "hi"},
  "fill": {"field": "model", "type": "nominal", "scale": {"domain": ["MC@NLO, CTEQ 6.6", "DYNNLO, MSTW 08"], "range": ["#0068ff", "#ff0000"]},
   "legend": {"orient": "none", "legendX": 28, "legendY": 36.5, "direction": "vertical", "title": null, "symbolType": "M-0.895,-1L0.895,-1L0.895,1L-0.895,1Z", "symbolSize": 1849, "symbolStrokeColor": "transparent", "symbolStrokeWidth": 1.3, "symbolOpacity": 1, "labelFont": "Liberation Sans", "labelFontSize": 19, "labelColor": "black", "labelOffset": 5, "labelLimit": 0, "rowPadding": 14.5, "padding": 0}}
 }},
{"data": {"name": "rbr"},
 "mark": {"type": "area", "interpolate": "linear", "opacity": 1},
 "encoding": {
  "x": {"field": "eta", "type": "quantitative", "scale": {"domain": [0, 2.4], "nice": false, "zero": false},
   "axis": {"orient": "bottom", "values": [0.1,0.2,0.3,0.4,0.6,0.7,0.8,0.9,1.1,1.2,1.3,1.4,1.6,1.7,1.8,1.9,2.1,2.2,2.3], "tickSize": -7, "labels": false, "domain": false, "title": null, "tickColor": "black"}},
  "y": {"field": "lo", "type": "quantitative", "scale": {"domain": [0, 0.4], "nice": false, "zero": false},
   "axis": {"orient": "left", "values": [0.01,0.02,0.03,0.04,0.06,0.07,0.08,0.09,0.11,0.12,0.13,0.14,0.16,0.17,0.18,0.19,0.21,0.22,0.23,0.24,0.26,0.27,0.28,0.29,0.31,0.32,0.33,0.34,0.36,0.37,0.38,0.39], "tickSize": -7, "labels": false, "domain": false, "title": null, "tickColor": "black"}},
  "y2": {"field": "hi"},
  "fill": {"field": "model", "type": "nominal", "scale": {"domain": ["MC@NLO, CTEQ 6.6", "DYNNLO, MSTW 08"], "range": ["#0068ff", "#ff0000"]},
   "legend": {"orient": "none", "legendX": 28, "legendY": 36.5, "direction": "vertical", "title": null, "symbolType": "M-0.895,-1L0.895,-1L0.895,1L-0.895,1Z", "symbolSize": 1849, "symbolStrokeColor": "transparent", "symbolStrokeWidth": 1.3, "symbolOpacity": 1, "labelFont": "Liberation Sans", "labelFontSize": 19, "labelColor": "black", "labelOffset": 5, "labelLimit": 0, "rowPadding": 14.5, "padding": 0}}
 }},
{"data": {"name": "rlb"},
 "mark": {"type": "line", "interpolate": "monotone", "strokeWidth": 1.5},
 "encoding": {
  "x": {"field": "eta", "type": "quantitative", "scale": {"domain": [0, 2.4], "nice": false, "zero": false},
   "axis": {"orient": "top", "values": [0, 0.5, 1, 1.5, 2], "tickSize": -13, "labels": false, "domain": true, "title": null, "tickColor": "black", "domainColor": "black"}},
  "y": {"field": "a", "type": "quantitative", "scale": {"domain": [0, 0.4], "nice": false, "zero": false},
   "axis": {"orient": "right", "values": [0, 0.05, 0.1, 0.15, 0.2, 0.25, 0.3, 0.35, 0.4], "tickSize": -13, "labels": false, "domain": true, "title": null, "tickColor": "black", "domainColor": "black"}},
  "stroke": {"field": "curve", "type": "nominal", "scale": {"domain": ["MC@NLO central", "DYNNLO central"], "range": ["black", "black"]},
   "legend": {"orient": "none", "legendX": 28, "legendY": 36.5, "direction": "vertical", "title": null, "symbolType": "M-0.895,0L0.895,0M0,-0.92L0,0.92", "symbolSize": 1849, "symbolStrokeColor": "black", "symbolFillColor": "transparent", "symbolStrokeWidth": 1.3, "symbolOpacity": 1, "labelFont": "Liberation Sans", "labelFontSize": 19, "labelExpr": "''", "labelOffset": 5, "rowPadding": 14.5, "padding": 0}}
 }},
{"data": {"name": "rlr"},
 "mark": {"type": "line", "interpolate": "monotone", "strokeWidth": 1.5},
 "encoding": {
  "x": {"field": "eta", "type": "quantitative", "scale": {"domain": [0, 2.4], "nice": false, "zero": false},
   "axis": {"orient": "top", "values": [0.1,0.2,0.3,0.4,0.6,0.7,0.8,0.9,1.1,1.2,1.3,1.4,1.6,1.7,1.8,1.9,2.1,2.2,2.3], "tickSize": -7, "labels": false, "domain": false, "title": null, "tickColor": "black"}},
  "y": {"field": "a", "type": "quantitative", "scale": {"domain": [0, 0.4], "nice": false, "zero": false},
   "axis": {"orient": "right", "values": [0.01,0.02,0.03,0.04,0.06,0.07,0.08,0.09,0.11,0.12,0.13,0.14,0.16,0.17,0.18,0.19,0.21,0.22,0.23,0.24,0.26,0.27,0.28,0.29,0.31,0.32,0.33,0.34,0.36,0.37,0.38,0.39], "tickSize": -7, "labels": false, "domain": false, "title": null, "tickColor": "black"}},
  "stroke": {"field": "curve", "type": "nominal", "scale": {"domain": ["MC@NLO central", "DYNNLO central"], "range": ["black", "black"]},
   "legend": {"orient": "none", "legendX": 28, "legendY": 36.5, "direction": "vertical", "title": null, "symbolType": "M-0.895,0L0.895,0M0,-0.92L0,0.92", "symbolSize": 1849, "symbolStrokeColor": "black", "symbolFillColor": "transparent", "symbolStrokeWidth": 1.3, "symbolOpacity": 1, "labelFont": "Liberation Sans", "labelFontSize": 19, "labelExpr": "''", "labelOffset": 5, "rowPadding": 14.5, "padding": 0}}
 }}
]
}
],
"spacing": 8,
"bounds": "flush"
}
]
}
